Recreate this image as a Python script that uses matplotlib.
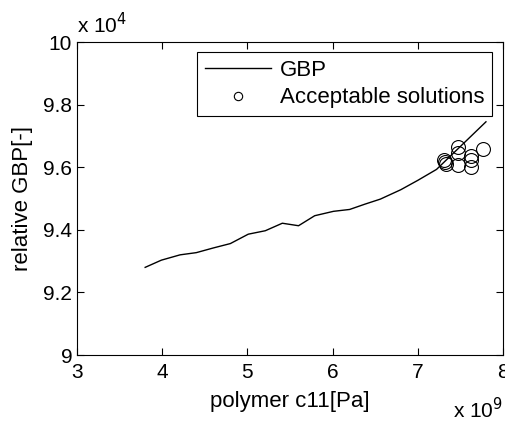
import numpy as np
import matplotlib
matplotlib.use("Agg")
import matplotlib.pyplot as plt
from matplotlib.ticker import FormatStrFormatter

plt.rcParams['font.family'] = ['Liberation Sans', 'DejaVu Sans']

# GBP curve (x in 1e9 Pa, y in 1e4)
gbp_x = [3.80, 3.99, 4.21, 4.40, 4.60, 4.80, 5.01, 5.21, 5.41, 5.60, 5.79,
         6.01, 6.20, 6.38, 6.56, 6.80, 7.00, 7.22, 7.80]
gbp_y = [9.280, 9.303, 9.320, 9.327, 9.342, 9.356, 9.386, 9.397, 9.421, 9.413, 9.445,
         9.459, 9.465, 9.482, 9.498, 9.528, 9.558, 9.593, 9.745]

# acceptable solutions
sol_x = [7.31, 7.32, 7.33, 7.47, 7.47, 7.47, 7.62, 7.62, 7.62, 7.76]
sol_y = [9.623, 9.617, 9.610, 9.665, 9.646, 9.607, 9.636, 9.623, 9.600, 9.657]

x_ticks = [3, 4, 5, 6, 7, 8]
y_ticks = [9, 9.2, 9.4, 9.6, 9.8, 10]

fig = plt.figure(figsize=(5.05, 4.23), dpi=100)
ax = fig.add_axes([77 / 505, (423 - 355) / 423, (503 - 77) / 505, (355 - 42) / 423])

ax.plot(gbp_x, gbp_y, color='black', linewidth=1.0, label='GBP')
ax.plot(sol_x, sol_y, linestyle='none', marker='o', markersize=10,
        markerfacecolor='none', markeredgecolor='black', markeredgewidth=0.8,
        label='Acceptable solutions')

ax.set_xlim(3, 8)
ax.set_ylim(9, 10)
ax.set_xticks(x_ticks)
ax.set_yticks(y_ticks)
ax.xaxis.set_major_formatter(FormatStrFormatter('%g'))
ax.yaxis.set_major_formatter(FormatStrFormatter('%g'))
ax.tick_params(direction='in', top=True, right=True, labelsize=15, length=5, width=0.8)
ax.tick_params(axis='x', pad=6)
for s in ax.spines.values():
    s.set_linewidth(0.8)

ax.set_xlabel('polymer c11[Pa]', fontsize=16, labelpad=6)
ax.set_ylabel('relative GBP[-]', fontsize=16, labelpad=7)

fig.text(77 / 505, 1 - 25 / 423, r'x 10$^4$', fontsize=15, ha='left', va='center')
fig.text(453 / 505, 1 - 410 / 423, r'x 10$^9$', fontsize=15, ha='left', va='center')

leg = ax.legend(loc='upper right', bbox_to_anchor=(0.975, 0.968), fontsize=16,
                frameon=True, fancybox=False, edgecolor='black', framealpha=1,
                handlelength=3.0, borderpad=0.35, labelspacing=0.3, handletextpad=0.4,
                markerscale=0.6, borderaxespad=0)
leg.get_frame().set_linewidth(0.8)

fig.savefig('out.png', dpi=100)
